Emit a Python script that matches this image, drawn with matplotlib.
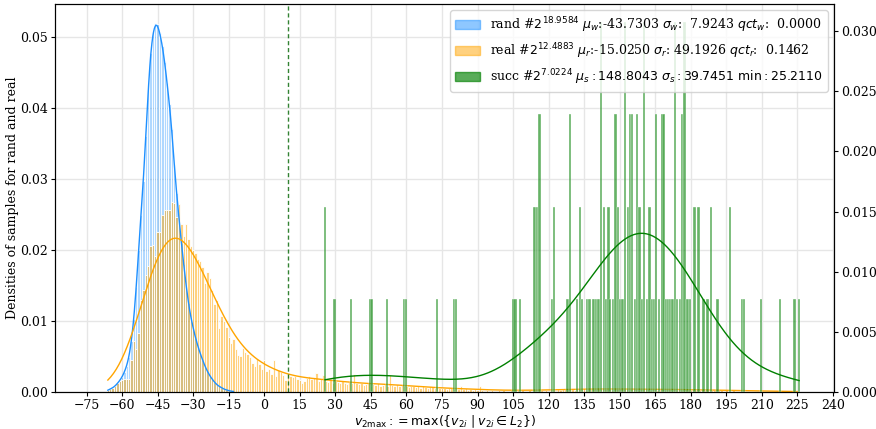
import numpy as np
import matplotlib.pyplot as plt
from matplotlib.colors import to_rgba
from matplotlib.patches import Patch

plt.rcParams['font.family'] = 'serif'
plt.rcParams['font.size'] = 9
plt.rcParams['xtick.major.size'] = 3
plt.rcParams['ytick.major.size'] = 3
plt.rcParams['xtick.major.pad'] = 2
plt.rcParams['ytick.major.pad'] = 2

# density per unit-width bin, bins centred on the integers
rand_x = np.arange(-66, -12)
rand_dens = np.array([
    .0003, .0004, .0006, .0008, .0012, .0016, .0021, .0028, .0037, .0050,
    .0072, .0103, .0148, .0200, .0250, .0297, .0360, .0425, .0478, .0507,
    .0520, .0518, .0505, .0488, .0465, .0435, .0405, .0370, .0320, .0280,
    .0245, .0210, .0180, .0150, .0125, .0105, .0090, .0076, .0064, .0054,
    .0045, .0036, .0029, .0023, .0018, .0014, .0010, .0008, .0006, .0004,
    .0003, .0002, .0001, .0001])

real_x = np.arange(-66, 226)
real_dens = np.array([
    .0003, .0004, .0006, .0009, .0013, .0015, .0017, .0018, .0019, .0019,
    .0045, .0072, .0061, .0083, .0130, .0144, .0165, .0178, .0205, .0207,
    .0191, .0225, .0226, .0249, .0257, .0257, .0257, .0267, .0266, .0246,
    .0265, .0237, .0220, .0237, .0216, .0205, .0200, .0196, .0187, .0185,
    .0176, .0153, .0169, .0160, .0144, .0124, .0130, .0090, .0107, .0100,
    .0092, .0077, .0069, .0075, .0060, .0052, .0051, .0062, .0057, .0054,
    .0050, .0041, .0036, .0046, .0040, .0033, .0045, .0030, .0032, .0026,
    .0045, .0022, .0031, .0028, .0024, .0017, .0026, .0022, .0021, .0022,
    .0019, .0017, .0012, .0016, .0020, .0023, .0018, .0021, .0027, .0016,
    .0019, .0024, .0016, .0014, .0017, .0013, .0015, .0014, .0012, .0016,
    .0013, .0011, .0014, .0012, .0025, .0013, .0011, .0012, .0010, .0011,
    .0012, .0009, .0011, .0010, .0012, .0009, .0010, .0011, .0009, .0024,
    .0010, .0009, .0011, .0008, .0010, .0009, .0008, .0007, .0009, .0008,
    .0007, .0008, .0006, .0008, .0007, .0006, .0008, .0007, .0006, .0007,
    .0005, .0006, .0005, .0004, .0006, .0005, .0004, .0005, .0004, .0008,
    .0004, .0005, .0003, .0004, .0003, .0004, .0003, .0008, .0003, .0002,
    .0003, .0002, .0003, .0002, .0002, .0003, .0002, .0003, .0002, .0002,
    .0003, .0002, .0002, .0003, .0002, .0003, .0002, .0002, .0003, .0002,
    .0003, .0002, .0003, .0003, .0002, .0003, .0002, .0003, .0003, .0002,
    .0004, .0003, .0004, .0005, .0003, .0004, .0004, .0003, .0005, .0004,
    .0004, .0005, .0003, .0004, .0005, .0004, .0004, .0006, .0004, .0005,
    .0004, .0005, .0004, .0003, .0005, .0004, .0005, .0004, .0004, .0005,
    .0003, .0004, .0005, .0004, .0003, .0004, .0005, .0004, .0004, .0003,
    .0004, .0005, .0003, .0004, .0004, .0003, .0004, .0005, .0003, .0004,
    .0003, .0004, .0003, .0003, .0004, .0003, .0003, .0004, .0003, .0003,
    .0003, .0004, .0003, .0003, .0002, .0003, .0003, .0002, .0003, .0003,
    .0002, .0003, .0002, .0002, .0003, .0002, .0001, .0002, .0002, .0001,
    .0002, .0001, .0002, .0002, .0001, .0002, .0001, .0001, .0002, .0001,
    .0001, .0002, .0001, .0001, .0002, .0001, .0001, .0002, .0001, .0001,
    .0001, .0001])

# succ samples: bin centres and counts
n_succ = 130
succ_x = np.array([
    25.7, 29.7, 36.6, 44.8, 45.5, 51.8, 59.0, 59.7, 72.8, 80.1,
    80.8, 105.1, 106.0, 107.9, 114.1, 115.0, 116.1, 121.3, 122.3, 127.9,
    129.0, 132.1, 133.2, 134.0, 136.2, 137.2, 139.0, 140.0, 141.0, 142.2,
    143.4, 144.3, 145.2, 145.9, 147.1, 148.2, 149.4, 150.1, 151.1, 152.2,
    153.4, 154.3, 155.3, 156.4, 157.4, 158.3, 159.3, 160.3, 161.4, 162.5,
    163.5, 164.4, 165.3, 166.6, 168.0, 168.8, 169.5, 170.5, 171.3, 172.2,
    173.3, 174.3, 175.4, 176.4, 177.4, 178.6, 179.7, 181.5, 183.2, 185.3,
    187.1, 188.4, 191.2, 196.5, 201.5, 202.4, 209.6, 217.6, 223.7, 225.7])
succ_cnt = np.array([
    2, 1, 1, 1, 1, 1, 1, 1, 1, 1,
    1, 1, 1, 1, 2, 2, 3, 1, 2, 1,
    3, 1, 2, 1, 1, 1, 1, 1, 1, 4,
    2, 1, 2, 1, 1, 3, 2, 1, 1, 4,
    2, 3, 3, 1, 3, 2, 1, 4, 1, 2,
    1, 1, 3, 1, 3, 3, 1, 1, 1, 1,
    4, 1, 1, 3, 4, 1, 1, 2, 2, 1,
    1, 2, 1, 2, 1, 1, 1, 1, 1, 1])

threshold = 10

labels = [
    r"rand #$2^{18.9584}$ $\mu_w$:-43.7303 $\sigma_w$:  7.9243 $qct_w$:  0.0000",
    r"real #$2^{12.4883}$ $\mu_r$:-15.0250 $\sigma_r$: 49.1926 $qct_r$:  0.1462",
    r"succ #$2^{7.0224}$ $\mu_s: 148.8043$ $\sigma_s: 39.7451$ $\min: 25.2110$",
]


def smooth(x, dens, bw, width=1.0):
    # gaussian kernel smoothing of the binned densities, clipped to the data range
    grid = np.linspace(x.min(), x.max(), 500)
    k = np.exp(-0.5 * ((grid[:, None] - x[None, :]) / bw) ** 2) / (bw * np.sqrt(2 * np.pi))
    return grid, (k * dens * width).sum(axis=1)


fig, ax = plt.subplots(figsize=(8.76, 4.29), dpi=100)
fig.subplots_adjust(left=0.0628, right=0.952, top=0.9907, bottom=0.0862)
ax.set_axisbelow(True)
ax.grid(color='#e6e6e6', lw=1)

ax.bar(rand_x, rand_dens, width=1, facecolor=to_rgba('dodgerblue', 0.35),
       edgecolor='white', lw=0.6)
ax.bar(real_x, real_dens, width=1, facecolor=to_rgba('orange', 0.5),
       edgecolor='white', lw=0.6)
ax.plot(*smooth(rand_x, rand_dens, 0.8), color='dodgerblue', lw=1)
ax.plot(*smooth(real_x, real_dens, 8), color='orange', lw=1)
ax.axvline(threshold, color='darkgreen', ls=(0, (3, 2)), lw=1, alpha=0.8)

ax.set_xlim(-88.3, 240.4)
ax.set_ylim(0, 0.05465)
ax.set_xticks(np.arange(-75, 241, 15))
ax.set_ylabel("Densities of samples for rand and real", labelpad=1)
ax.set_xlabel(r"$v_{2\max}:=\max(\{v_{2i}\mid v_{2i}\in L_2\})$", labelpad=1)

ax2 = ax.twinx()
succ_dens = succ_cnt / n_succ
ax2.bar(succ_x, succ_dens, width=1, facecolor=to_rgba('green', 0.6),
        edgecolor='white', lw=0.25)
ax2.plot(*smooth(succ_x, succ_dens, 15), color='green', lw=1)
ax2.set_ylim(0, 0.03226)

handles = [Patch(color='dodgerblue', alpha=0.5),
           Patch(color='orange', alpha=0.5),
           Patch(color='green', alpha=0.65)]
ax2.legend(handles, labels, loc='upper right')

fig.savefig('out.png', dpi=100)
